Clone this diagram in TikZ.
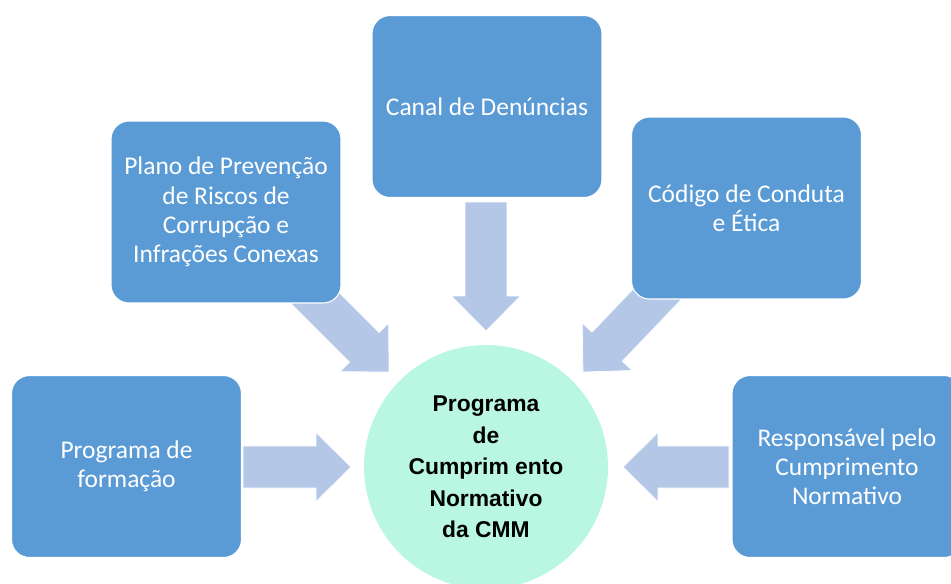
\documentclass[tikz,border=0pt]{standalone}
\usepackage{fontspec}
\setmainfont{Carlito}
\newfontfamily\cmmfont{Liberation Sans}
\usetikzlibrary{calc}

\definecolor{boxblue}{HTML}{5B9BD5}
\definecolor{flowblue}{HTML}{B4C7E7}
\definecolor{mint}{HTML}{B9F7E2}

% block arrow from tail #1 to tip #2
\newcommand{\flowarrow}[2]{%
  \coordinate (#1-#2) at ($(#2)!0.7cm!(#1)$);
  \fill [flow] ($(#1)!0.42cm!90:(#2)$) -- ($(#1-#2)!0.42cm!90:(#2)$)
    -- ($(#1-#2)!0.69cm!90:(#2)$) -- (#2) -- ($(#1-#2)!0.69cm!-90:(#2)$)
    -- ($(#1-#2)!0.42cm!-90:(#2)$) -- ($(#1)!0.42cm!-90:(#2)$) -- cycle;
}

\begin{document}
\begin{tikzpicture}[x=0.02cm, y=-0.02cm]

\tikzstyle{cell} = [rectangle, rounded corners=0.36cm, minimum width=4.6cm, minimum height=3.64cm, fill=boxblue, draw=white, line width=0.6pt, text=white, align=center, font=\fontsize{14.5}{16.6}\selectfont]
\tikzstyle{flow} = [fill=flowblue, draw=white, line width=0.4pt]
\tikzstyle{core} = [circle, minimum size=4.88cm, fill=mint, align=center, font=\cmmfont\bfseries\fontsize{13}{17.9}\selectfont]

\clip (0,0) rectangle (951,583);
\useasboundingbox (0,0) rectangle (951,583);

%% ------------
%% -- ARROWS --
%% ------------

\coordinate (t_canal) at (486,202);
\coordinate (p_canal) at (486,331);
\coordinate (t_plano) at (305,288);
\coordinate (p_plano) at (389,372);
\coordinate (t_codigo) at (667,284);
\coordinate (p_codigo) at (583,372);
\coordinate (t_formacao) at (243,467);
\coordinate (p_formacao) at (351,467);
\coordinate (t_resp) at (729,467);
\coordinate (p_resp) at (623,467);

\flowarrow{t_canal}{p_canal}
\flowarrow{t_plano}{p_plano}
\flowarrow{t_codigo}{p_codigo}
\flowarrow{t_formacao}{p_formacao}
\flowarrow{t_resp}{p_resp}

%% -----------
%% -- BOXES --
%% -----------

\node (canal) [cell] at (487,106.5) {Canal de Denúncias};
\node (plano) [cell] at (226,212) {Plano de Prevenção\\de Riscos de\\Corrupção e\\Infrações Conexas};
\node (codigo) [cell] at (746.5,208) {Código de Conduta\\e Ética};
\node (formacao) [cell] at (126.5,466.5) {Programa de\\formação};
\node (resp) [cell] at (847,466.5) {Responsável pelo\\Cumprimento\\Normativo};

% CENTRE
\node (cmm) [core] at (486,467) {Programa\\de\\Cumprim ento\\Normativo\\da CMM};

\end{tikzpicture}
\end{document}
